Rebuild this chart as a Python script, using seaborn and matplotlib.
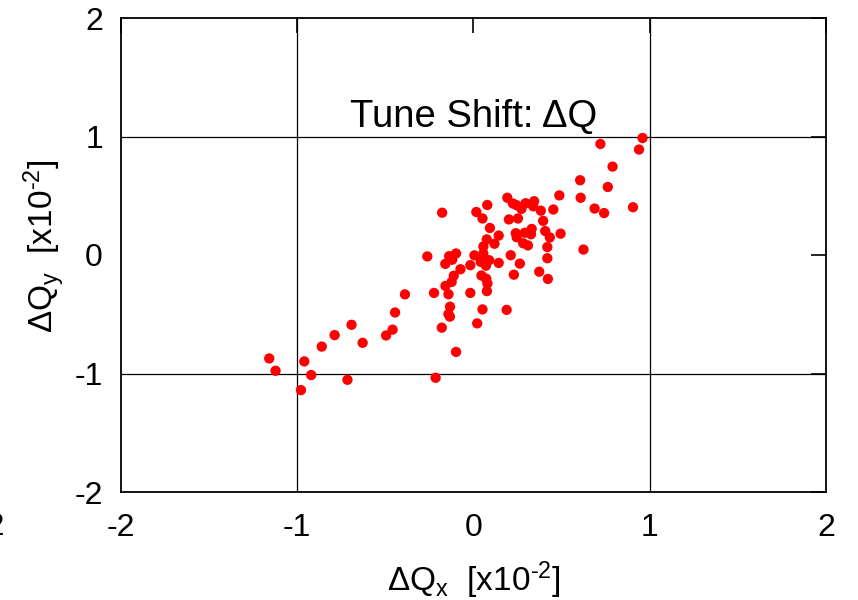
import matplotlib
matplotlib.use("Agg")
import matplotlib.pyplot as plt
import seaborn as sns
import pandas as pd

dqx = [-1.159, -1.123, -0.960, -0.921, -0.979, -0.861, -0.788, -0.692, -0.629, -0.715,
       -0.496, -0.459, -0.445, -0.389, -0.224, -0.215, -0.180, -0.142, -0.133, -0.142,
       -0.134, -0.099, -0.178, -0.262, -0.160, -0.138, -0.121, -0.099, -0.074, -0.112,
       -0.124, -0.159, -0.018, -0.018, 0.005, 0.016, 0.051, 0.078, 0.093, 0.075,
       0.056, 0.056, 0.119, 0.143, 0.041, 0.071, 0.089, 0.143, 0.045, 0.072,
       0.079, 0.076, 0.051, 0.021, 0.188, 0.229, 0.211, 0.263, 0.192, 0.224,
       0.245, 0.272, 0.296, 0.344, 0.339, 0.201, 0.252, 0.240, 0.245, 0.291,
       0.326, 0.330, 0.282, 0.309, 0.382, 0.395, 0.407, 0.433, 0.419, 0.419,
       0.373, 0.422, 0.453, 0.487, 0.494, 0.605, 0.608, 0.624, 0.687, 0.741,
       0.720, 0.762, 0.789, 0.905, 0.939, 0.959]
dqy = [-0.873, -0.977, -0.898, -1.013, -1.140, -0.773, -0.676, -0.589, -0.741, -1.053,
       -0.679, -0.630, -0.485, -0.332, -0.320, -1.036, -0.613, -0.331, -0.436, -0.499,
       -0.520, -0.818, 0.357, -0.012, -0.075, -0.010, -0.040, 0.013, -0.120, -0.175,
       -0.227, -0.261, -0.320, -0.086, -0.003, 0.363, 0.308, 0.422, 0.228, 0.132,
       0.072, 0.013, 0.095, 0.164, -0.058, -0.090, -0.044, -0.067, -0.173, -0.200,
       -0.240, -0.305, -0.459, -0.577, -0.463, -0.166, -0.002, -0.073, 0.483, 0.434,
       0.420, 0.389, 0.437, 0.454, 0.411, 0.300, 0.308, 0.184, 0.150, 0.188,
       0.175, 0.220, 0.099, 0.081, 0.374, 0.288, 0.202, 0.148, 0.067, -0.027,
       -0.141, -0.202, 0.384, 0.503, 0.180, 0.631, 0.483, 0.046, 0.392, 0.354,
       0.937, 0.574, 0.746, 0.403, 0.890, 0.987]

xticks = [-2, -1, 0, 1, 2]
yticks = [-2, -1, 0, 1, 2]
grid_vals = [-1, 1]
title_text = "Tune Shift: \u0394Q"
xlabel_text = r"$\Delta$Q$_\mathregular{x}$  [x10$^\mathregular{\text{-}2}$]"
ylabel_text = r"$\Delta$Q$_\mathregular{y}$  [x10$^\mathregular{\text{-}2}$]"

sns.set_theme(style="white")
plt.rcParams['font.family'] = ['Liberation Sans', 'DejaVu Sans']
plt.rcParams['mathtext.fontset'] = 'custom'
plt.rcParams['mathtext.rm'] = 'Liberation Sans'
plt.rcParams['mathtext.it'] = 'Liberation Sans'
plt.rcParams['mathtext.bf'] = 'Liberation Sans'

fig = plt.figure(figsize=(8.58, 6.0), dpi=100)
ax = fig.add_axes([121/858, 1-492/600, (826-121)/858, (492-18)/600])

df = pd.DataFrame({"dqx": dqx, "dqy": dqy})
for v in grid_vals:
    ax.axvline(v, color='black', lw=0.9, zorder=1)
    ax.axhline(v, color='black', lw=0.9, zorder=1)

sns.scatterplot(data=df, x="dqx", y="dqy", color='#ff0000', s=55, edgecolor='none',
                linewidth=0, ax=ax, zorder=3)

ax.set_xlim(-2, 2)
ax.set_ylim(-2, 2)
ax.set_xticks(xticks)
ax.set_yticks(yticks)
ax.set_xticklabels([str(t) for t in xticks])
ax.set_yticklabels([str(t) for t in yticks])
ax.tick_params(axis='both', direction='in', length=11, width=1.2, color='black',
               labelsize=23, labelcolor='black', top=True, right=True)
ax.tick_params(axis='x', pad=15)
ax.tick_params(axis='y', pad=13)
for s in ax.spines.values():
    s.set_color('black')
    s.set_linewidth(1.3)
    s.set_visible(True)

ax.set_xlabel(xlabel_text, fontsize=24, color='black', va='center')
ax.set_ylabel(ylabel_text, fontsize=24, color='black', va='center')
ax.xaxis.set_label_coords(0.5, (492-580)/474)
ax.yaxis.set_label_coords((44-121)/705, (492-246)/474)

ax.text(0, 1.08, title_text, ha='center', va='baseline', fontsize=27.5, color='black', zorder=4)

fig.text(5/858, 1-527/600, "-2", ha='right', va='center', fontsize=23, color='black')

fig.savefig("out.png", dpi=100)
